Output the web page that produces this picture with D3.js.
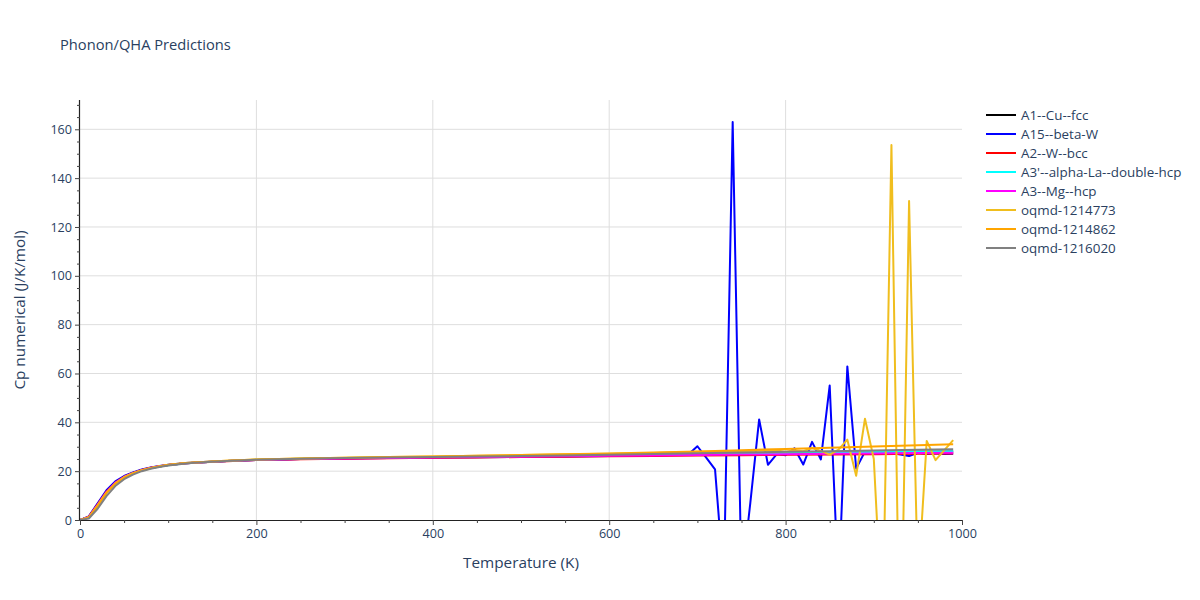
<!DOCTYPE html>
<html>
<head>
<meta charset="utf-8">
<script src="https://cdn.jsdelivr.net/npm/d3@7"></script>
<style>
  html, body { margin: 0; padding: 0; background: #fff; }
  svg { display: block; font-family: "Open Sans", "DejaVu Sans", Arial, sans-serif; }
</style>
</head>
<body>
<svg id="chart" width="1200" height="600"></svg>
<script>
// ---------------- DATA ----------------
const tempsSmooth = [0,10,20,30,40,50,60,70,80,90,100,120,140,160,180,200,250,300,350,400,450,500,550,600,650,700,750,800,850,900,950,990];
const tempsNoisy = [0,10,20,30,40,50,60,70,80,90,100,120,140,160,180,200,250,300,350,400,450,500,550,600,650,
  660,670,680,690,700,710,720,730,740,750,760,770,780,790,800,810,820,830,840,850,860,870,880,890,900,910,920,930,940,950,960,970,980,990];

const seriesNames = ["A1--Cu--fcc","A15--beta-W","A2--W--bcc","A3'--alpha-La--double-hcp","A3--Mg--hcp","oqmd-1214773","oqmd-1214862","oqmd-1216020"];

const cpA1Cu = [0,1.2,6.1,11.3,15.1,17.6,19.2,20.4,21.3,21.9,22.5,23.2,23.7,24.1,24.4,24.6,25.0,25.3,25.5,25.7,25.9,26.1,26.3,26.5,26.7,26.9,27.1,27.3,27.5,27.7,27.9,28.1];
const cpA15W = [0,1.5,6.8,12.2,15.8,18.0,19.5,20.7,21.5,22.1,22.6,23.3,23.8,24.1,24.4,24.6,25.0,25.2,25.4,25.6,25.7,25.9,26.0,26.2,26.4,
  26.5,26.6,26.7,26.9,30.2,25.5,20.7,-25,163,-25,7,41.2,22.6,27,26.5,29.4,22.7,32,24.8,55.1,-28,62.9,21.1,28,27.5,27.2,27.4,26.8,26.2,27.5,27.0,27.3,27.0,27.1];
const cpA2W = [0,1.4,6.4,11.6,15.3,17.7,19.3,20.5,21.4,22.0,22.5,23.2,23.7,24.0,24.3,24.6,24.9,25.1,25.3,25.5,25.6,25.8,25.9,26.1,26.2,26.4,26.5,26.7,26.8,26.9,27.1,27.2];
const cpA3La = [0,1.1,6.0,11.2,15.0,17.5,19.1,20.3,21.2,21.9,22.4,23.2,23.7,24.1,24.4,24.7,25.1,25.4,25.6,25.8,26.0,26.2,26.4,26.6,26.8,27.0,27.2,27.4,27.6,27.8,28.0,28.2];
const cpA3Mg = [0,1.2,6.2,11.4,15.2,17.6,19.2,20.4,21.3,22.0,22.5,23.2,23.7,24.1,24.4,24.6,25.0,25.2,25.4,25.6,25.8,25.9,26.1,26.3,26.4,26.6,26.8,26.9,27.1,27.2,27.4,27.5];
const cpOqmd1214773 = [0,1.1,6.0,11.2,15.0,17.5,19.2,20.4,21.3,22.0,22.6,23.3,23.8,24.2,24.5,24.8,25.2,25.5,25.8,26.0,26.3,26.6,26.9,27.1,27.4,
  27.5,27.6,27.7,27.8,27.9,28.0,28.1,28.1,28.2,28.2,28.3,28.4,28.4,28.5,28.0,28.6,28.2,29.5,28.3,26.8,28.8,32.9,18.1,41.5,25,-45,153.6,-72,130.6,-27,32.4,24.5,28.6,32.7];
const cpOqmd1214862 = [0,1.0,5.8,11.0,14.8,17.3,19.0,20.3,21.2,21.9,22.5,23.3,23.8,24.2,24.5,24.8,25.2,25.5,25.8,26.0,26.3,26.6,26.9,27.2,27.6,28.1,28.6,29.1,29.6,30.1,30.6,31.0];
const cpOqmd1216020 = [0,0.6,4.6,9.8,13.9,16.7,18.6,20.0,21.0,21.7,22.3,23.1,23.7,24.1,24.4,24.7,25.1,25.4,25.6,25.8,26.0,26.2,26.4,26.7,27.0,27.3,27.6,27.9,28.2,28.5,28.8,29.0];

const seriesColors = ["#000000","#0000ff","#ff0000","#00ffff","#ff00ff","#f0be1e","#ffa500","#808080"];

const xTickValues = [0,200,400,600,800,1000];
const yTickValues = [0,20,40,60,80,100,120,140,160];

const chartTitle = "Phonon/QHA Predictions";
const xTitle = "Temperature (K)";
const yTitle = "Cp numerical (J/K/mol)";

// ---------------- LAYOUT ----------------
const series = [
  {name: seriesNames[0], t: tempsSmooth, v: cpA1Cu},
  {name: seriesNames[1], t: tempsNoisy, v: cpA15W},
  {name: seriesNames[2], t: tempsSmooth, v: cpA2W},
  {name: seriesNames[3], t: tempsSmooth, v: cpA3La},
  {name: seriesNames[4], t: tempsSmooth, v: cpA3Mg},
  {name: seriesNames[5], t: tempsNoisy, v: cpOqmd1214773},
  {name: seriesNames[6], t: tempsSmooth, v: cpOqmd1214862},
  {name: seriesNames[7], t: tempsSmooth, v: cpOqmd1216020}
].map((s, i) => ({...s, color: seriesColors[i]}));

const M = {left: 80, top: 100, right: 962, bottom: 520};
const textColor = "#2a3f5f";
const svg = d3.select("#chart");

const x = d3.scaleLinear().domain([0, 1000]).range([M.left, M.right]);
const y = d3.scaleLinear().domain([0, 172]).range([M.bottom, M.top]);

// grid
const grid = svg.append("g");
grid.selectAll(".vg").data(xTickValues.filter(d => d > 0 && d < 1000)).join("line")
  .attr("x1", d => x(d)).attr("x2", d => x(d)).attr("y1", M.top).attr("y2", M.bottom)
  .attr("stroke", "#dedede").attr("stroke-width", 1);
grid.selectAll(".hg").data(yTickValues.filter(d => d > 0)).join("line")
  .attr("x1", M.left).attr("x2", M.right).attr("y1", d => y(d)).attr("y2", d => y(d))
  .attr("stroke", "#dedede").attr("stroke-width", 1);

// clip
svg.append("clipPath").attr("id", "clip").append("rect")
  .attr("x", M.left).attr("y", M.top).attr("width", M.right - M.left).attr("height", M.bottom - M.top);

const line = d3.line().x(d => x(d[0])).y(d => y(d[1]));
const lines = svg.append("g").attr("clip-path", "url(#clip)");
series.forEach(s => {
  lines.append("path")
    .datum(s.t.map((t, i) => [t, s.v[i]]))
    .attr("d", line)
    .attr("fill", "none")
    .attr("stroke", s.color)
    .attr("stroke-width", 2)
    .attr("stroke-linejoin", "round");
});

// axes
const xMinor = d3.range(0, 1001, 50).filter(d => !xTickValues.includes(d));
const yMinor = d3.range(0, 171, 5).filter(d => !yTickValues.includes(d));

const xAxis = svg.append("g").attr("transform", `translate(0,${M.bottom})`)
  .call(d3.axisBottom(x).tickValues(xTickValues).tickSize(5).tickPadding(4).tickFormat(d3.format("d")));
svg.append("g").attr("transform", `translate(0,${M.bottom})`)
  .call(d3.axisBottom(x).tickValues(xMinor).tickSize(3).tickFormat(""))
  .call(g => g.select(".domain").remove());
const yAxis = svg.append("g").attr("transform", `translate(${M.left},0)`)
  .call(d3.axisLeft(y).tickValues(yTickValues).tickSize(5).tickPadding(3).tickFormat(d3.format("d")));
svg.append("g").attr("transform", `translate(${M.left},0)`)
  .call(d3.axisLeft(y).tickValues(yMinor).tickSize(3).tickFormat(""))
  .call(g => g.select(".domain").remove());

svg.selectAll(".domain").attr("stroke", "#222").attr("stroke-width", 1.2);
svg.selectAll(".tick line").attr("stroke", "#444");
svg.selectAll(".tick text").attr("fill", textColor).style("font-size", "12.6px")
  .style("font-family", '"Open Sans", "DejaVu Sans", Arial, sans-serif');
xAxis.select(".domain").attr("d", `M${M.left},0.5H${M.right}`);
yAxis.select(".domain").attr("d", `M-0.5,${M.bottom}V${M.top}`);

// titles
svg.append("text").attr("x", 60).attr("y", 50).text(chartTitle)
  .attr("fill", textColor).style("font-size", "14.7px");
svg.append("text").attr("x", (M.left + M.right) / 2).attr("y", 568).attr("text-anchor", "middle")
  .text(xTitle).attr("fill", textColor).style("font-size", "15.3px");
svg.append("text").attr("transform", `translate(25,${(M.top + M.bottom) / 2}) rotate(-90)`)
  .attr("text-anchor", "middle").text(yTitle).attr("fill", textColor).style("font-size", "15.3px");

// legend
const legend = svg.append("g").attr("transform", "translate(986,115)");
series.forEach((s, i) => {
  const g = legend.append("g").attr("transform", `translate(0,${i * 19})`);
  g.append("line").attr("x1", 0).attr("x2", 30).attr("y1", 0).attr("y2", 0)
    .attr("stroke", s.color).attr("stroke-width", 2);
  g.append("text").attr("x", 35).attr("y", 4.7).text(s.name)
    .attr("fill", textColor).style("font-size", "13.4px");
});
</script>
</body>
</html>
